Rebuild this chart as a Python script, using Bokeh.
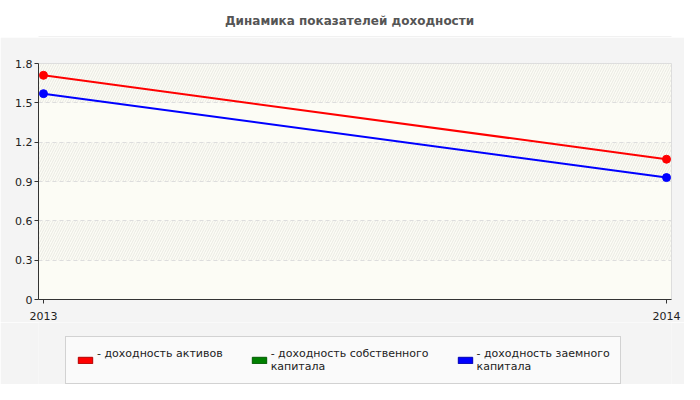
import math

from bokeh.embed import file_html
from bokeh.layouts import column
from bokeh.models import (BoxAnnotation, ColumnDataSource, FixedTicker, Label,
                          Legend, LegendItem, Range1d)
from bokeh.plotting import figure
from bokeh.resources import INLINE

# data
years = [2013, 2014]
assets = [1.71, 1.07]
equity = [math.nan, math.nan]   # no visible line in the picture
borrowed = [1.57, 0.93]

y_ticks = [0, 0.3, 0.6, 0.9, 1.2, 1.5, 1.8]
y_tick_labels = ["0", "0.3", "0.6", "0.9", "1.2", "1.5", "1.8"]

series_cols = ["assets", "equity", "borrowed"]
series_names = [
    "- доходность активов\n ",
    "- доходность собственного\nкапитала",
    "- доходность заемного\nкапитала",
]
series_colors = ["#ff0000", "#008000", "#0000ff"]
swatch_borders = ["#b00000", "#005a00", "#0000b0"]

title_text = "Динамика показателей доходности"
FONT = "DejaVu Sans"
PANEL = "#f4f4f4"


def blank(height, fill):
    f = figure(width=684, height=height, output_backend="svg",
               toolbar_location=None, x_axis_type=None, y_axis_type=None,
               min_border_left=0, min_border_right=0,
               min_border_top=0, min_border_bottom=0,
               border_fill_color=fill, background_fill_color=fill,
               outline_line_color=None)
    f.grid.visible = False
    return f


source = ColumnDataSource(data=dict(year=years, assets=assets,
                                    equity=equity, borrowed=borrowed))

# white header strip holding the title
# (the column lines up every frame with the chart's frame, 38px from the left)
head = blank(37, "white")
head.add_layout(Label(x=311, y=17, x_units="screen", y_units="screen",
                      text=title_text, text_align="center",
                      text_baseline="middle", text_font=FONT,
                      text_font_size="12px", text_font_style="bold",
                      text_color="#555555"))
# thin edge where the grey panel starts
head.add_layout(BoxAnnotation(left=-40, right=700, bottom=0, top=1,
                              left_units="screen", right_units="screen",
                              bottom_units="screen", top_units="screen",
                              fill_color="#e3e3e3", fill_alpha=1,
                              line_color=None))

p = figure(
    width=684, height=285,
    output_backend="svg", toolbar_location=None,
    x_range=Range1d(2012.992, 2014.008), y_range=Range1d(0, 1.8),
    min_border_left=38, min_border_right=13,
    min_border_top=26, min_border_bottom=23,
    border_fill_color=PANEL,
    background_fill_color="#fcfcf5",
    outline_line_color="#dddddd",
)

p.xaxis.ticker = FixedTicker(ticks=years)
p.yaxis.ticker = FixedTicker(ticks=y_ticks)
p.yaxis.major_label_overrides = dict(zip(y_ticks, y_tick_labels))

for ax in (p.xaxis, p.yaxis):
    ax.axis_line_color = "#333333"
    ax.major_tick_line_color = "#333333"
    ax.major_tick_in = 0
    ax.major_tick_out = 4
    ax.minor_tick_line_color = None
    ax.major_label_text_font = FONT
    ax.major_label_text_font_size = "11px"
    ax.major_label_text_color = "#222222"
p.xaxis.major_label_standoff = 8
p.yaxis.major_label_standoff = 2

p.xgrid.visible = False
# extra tick below zero so the hatched bands start at the bottom
p.ygrid.ticker = FixedTicker(ticks=[-0.3] + y_ticks)
p.ygrid.grid_line_color = "#dddddd"
p.ygrid.grid_line_dash = "4 3"
p.ygrid.band_hatch_pattern = "/"
p.ygrid.band_hatch_color = "#e4e4de"
p.ygrid.band_hatch_scale = 5
p.ygrid.band_hatch_weight = 0.8

# legend lives in its own grey strip under the chart
leg = blank(62, PANEL)
items = []
for col, name, color, border in zip(series_cols, series_names,
                                    series_colors, swatch_borders):
    p.line("year", col, source=source, line_color=color, line_width=2)
    p.scatter("year", col, source=source, size=8,
              fill_color=color, line_color=color)
    swatch = leg.rect(x=[math.nan], y=[math.nan], width=1, height=1,
                      fill_color=color, line_color=border)
    items.append(LegendItem(label=name, renderers=[swatch]))

legend = Legend(
    items=items, orientation="horizontal",
    location=(27, 0), margin=0, padding=10, spacing=27,
    glyph_width=18, glyph_height=8, label_standoff=3,
    label_text_font=FONT, label_text_font_size="11px",
    label_text_color="#222222",
    background_fill_color="#fafafa", background_fill_alpha=1,
    border_line_color="#aaaaaa",
)
leg.add_layout(legend, "center")

layout = column(head, p, leg, spacing=0)
open("out.html", "w").write(file_html(layout, INLINE))
